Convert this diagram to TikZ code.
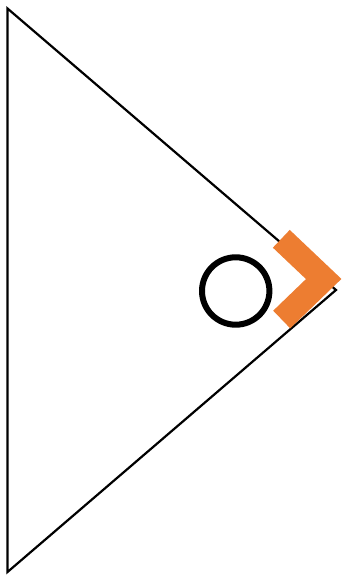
\documentclass[tikz,border=0pt]{standalone}
\definecolor{chevorange}{HTML}{ED7D31}
\tikzset{
  tri/.style={draw=black, line width=2.2pt, line join=miter},
  chev/.style={draw=chevorange, line width=24.5pt, line join=miter, line cap=butt},
  ring/.style={draw=black, line width=6pt}
}
\begin{document}
\begin{tikzpicture}[x=1pt,y=-1pt]
\useasboundingbox (0,0) rectangle (347,577);
\coordinate (top) at (7.5,8.5);
\coordinate (bot) at (7.5,572);
\coordinate (tip) at (336,290);
\draw[tri] (top) -- (bot) -- (tip) -- cycle;
\coordinate (c1) at (281.3,238.8);
\coordinate (c2) at (323.7,279);
\coordinate (c3) at (281.7,319.5);
\draw[chev] (c1) -- (c2) -- (c3);
\coordinate (ctr) at (235.7,291);
\draw[ring] (ctr) circle[radius=33.7];
\end{tikzpicture}
\end{document}
